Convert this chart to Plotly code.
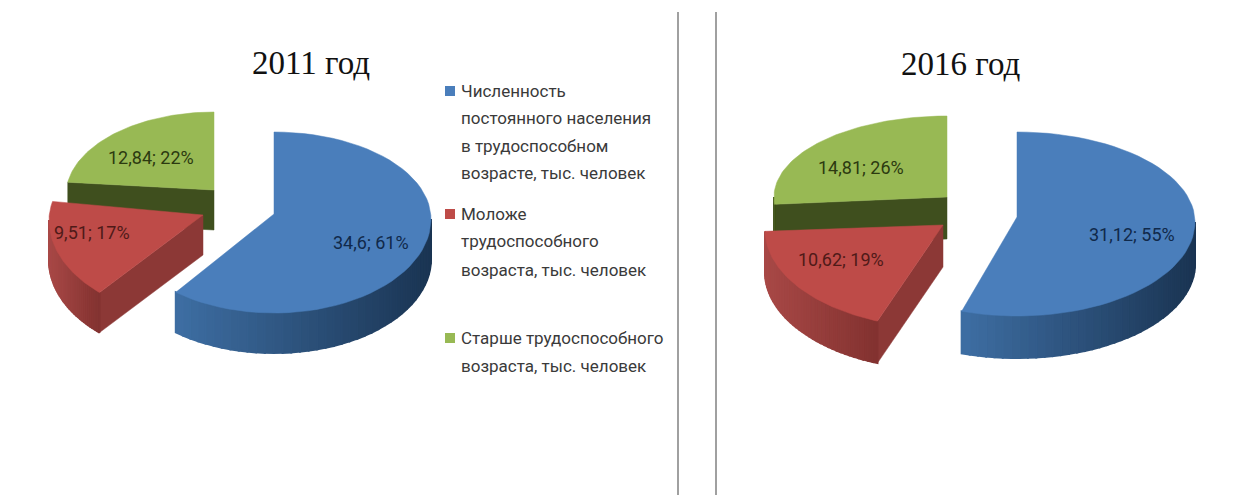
import math
import plotly.graph_objects as go

CATEGORIES = ["Численность постоянного населения в трудоспособном возрасте, тыс. человек",
              "Моложе трудоспособного возраста, тыс. человек",
              "Старше трудоспособного возраста, тыс. человек"]
YEARS = ["2011 год", "2016 год"]
VALUES_2011 = [34.6, 9.51, 12.84]
VALUES_2016 = [31.12, 10.62, 14.81]
PERCENT_2011 = [61, 17, 22]
PERCENT_2016 = [55, 19, 26]

LEGEND_LINES = [["Численность", "постоянного населения", "в трудоспособном", "возрасте, тыс. человек"],
                ["Моложе", "трудоспособного", "возраста, тыс. человек"],
                ["Старше трудоспособного", "возраста, тыс. человек"]]
LEGEND_Y = [[91, 118, 146, 173], [214, 241, 270], [338, 366]]

TOP = ["#4A7EBB", "#BE4B48", "#98B954"]
WALL_L = [(62, 110, 163), (168, 72, 70), (70, 88, 34)]
WALL_R = [(26, 52, 82), (130, 50, 48), (70, 88, 34)]
CUT = ["#2F5680", "#8C3836", "#3F4F1E"]
TEXT = ["#10294A", "#4F1A18", "#2C3A10"]
LABEL_FONT = "Roboto, Open Sans, sans-serif"

# per-slice projection: apex, rx, ry_top, ry_bot, mid, rotation in degrees
PIES = [
    dict(values=VALUES_2011, pct=PERCENT_2011, depth=40,
         geom=[((274, 214), 157, 87, 94, 5, 0),
               ((203, 215), 154, 87, 98, 5, 3.5),
               ((214, 190), 148, 83, 98, 5, 0)],
         label=[(371, 242), (92, 232), (151, 157)], title=(311, 63)),
    dict(values=VALUES_2016, pct=PERCENT_2016, depth=42,
         geom=[((1017, 217), 178, 90, 94, 5, 0),
               ((943, 225), 178, 90, 98, 5, 3.5),
               ((947, 197), 173, 81, 98, 0, 0)],
         label=[(1132, 234), (841, 259), (861, 167)], title=(961, 64)),
]

fig = go.Figure()


def poly(xs, ys, color, width=0.5):
    fig.add_trace(go.Scatter(x=xs, y=ys, mode="lines", fill="toself", fillcolor=color,
                             line=dict(color=color, width=width), hoverinfo="skip", showlegend=False))


def mix(a, b, t):
    return "rgb(%d,%d,%d)" % tuple(round(a[i] + (b[i] - a[i]) * t) for i in range(3))


for pie in PIES:
    total = sum(pie["values"])
    bounds = [0.0]
    for v in pie["values"]:
        bounds.append(bounds[-1] + v / total * 2 * math.pi)

    def rim(i, th):
        (ax, ay), rx, ry_top, ry_bot, mid, rot = pie["geom"][i]
        th = th + math.radians(rot)
        c = math.cos(th)
        return ax + rx * math.sin(th), ay + mid - c * (ry_top if c > 0 else ry_bot)

    d = pie["depth"]
    for i in (2, 1, 0):  # back to front
        a0, a1 = bounds[i], bounds[i + 1]
        steps = 60
        angles = [a0 + (a1 - a0) * k / steps for k in range(steps + 1)]
        arc = [rim(i, t) for t in angles]
        ax, ay = pie["geom"][i][0]
        # cut face turned to the viewer
        if i in (1, 2):
            x, y = arc[0]
            poly([ax, x, x, ax, ax], [ay, y, y + d, ay + d, ay], CUT[i])
        # outer wall, shaded in narrow strips
        rot = math.radians(pie["geom"][i][5])
        lo, hi = max(a0, math.pi / 2 - rot), min(a1, 1.5 * math.pi - rot)
        if hi > lo:
            strips = 40
            pts = [rim(i, lo + (hi - lo) * k / strips) for k in range(strips + 1)]
            xmin = min(p[0] for p in pts)
            xmax = max(p[0] for p in pts)
            for k in range(strips):
                (x0, y0), (x1, y1) = pts[k], pts[k + 1]
                t = ((x0 + x1) / 2 - xmin) / (xmax - xmin)
                poly([x0, x1, x1, x0, x0], [y0, y1, y1 + d, y0 + d, y0], mix(WALL_L[i], WALL_R[i], t), width=2)
        # top face
        poly([ax] + [p[0] for p in arc] + [ax], [ay] + [p[1] for p in arc] + [ay], TOP[i])

# legend markers
fig.add_trace(go.Scatter(x=[450, 450, 450], y=[LEGEND_Y[0][0], LEGEND_Y[1][0], LEGEND_Y[2][0]], mode="markers",
                         marker=dict(symbol="square", size=10, color=TOP), hoverinfo="skip", showlegend=False,
                         customdata=CATEGORIES))

annotations = []
for pie, year in zip(PIES, YEARS):
    annotations.append(dict(x=pie["title"][0], y=pie["title"][1], text=year, showarrow=False,
                            font=dict(family="Liberation Serif, serif", size=33, color="#111111")))
    for i, (v, p) in enumerate(zip(pie["values"], pie["pct"])):
        annotations.append(dict(x=pie["label"][i][0], y=pie["label"][i][1],
                                text=f"{str(v).replace('.', ',')}; {p}%", showarrow=False,
                                font=dict(family=LABEL_FONT, size=18, color=TEXT[i])))
for lines, ys in zip(LEGEND_LINES, LEGEND_Y):
    for line, y in zip(lines, ys):
        annotations.append(dict(x=459, y=y, text=line, showarrow=False, xanchor="left",
                                font=dict(family=LABEL_FONT, size=17, color="#3A3A3A")))

shapes = [dict(type="line", x0=x, x1=x, y0=12, y1=495, line=dict(color="#808080", width=1.5)) for x in (678, 716)]

fig.update_layout(
    width=1246, height=495, margin=dict(l=0, r=0, t=0, b=0),
    paper_bgcolor="white", plot_bgcolor="white", showlegend=False,
    xaxis=dict(range=[0, 1246], visible=False, fixedrange=True),
    yaxis=dict(range=[495, 0], visible=False, fixedrange=True),
    annotations=annotations, shapes=shapes,
)
fig.write_html("out.html", config=dict(displayModeBar=False),
               post_script="document.body.style.margin='0';document.body.style.overflow='hidden';")
